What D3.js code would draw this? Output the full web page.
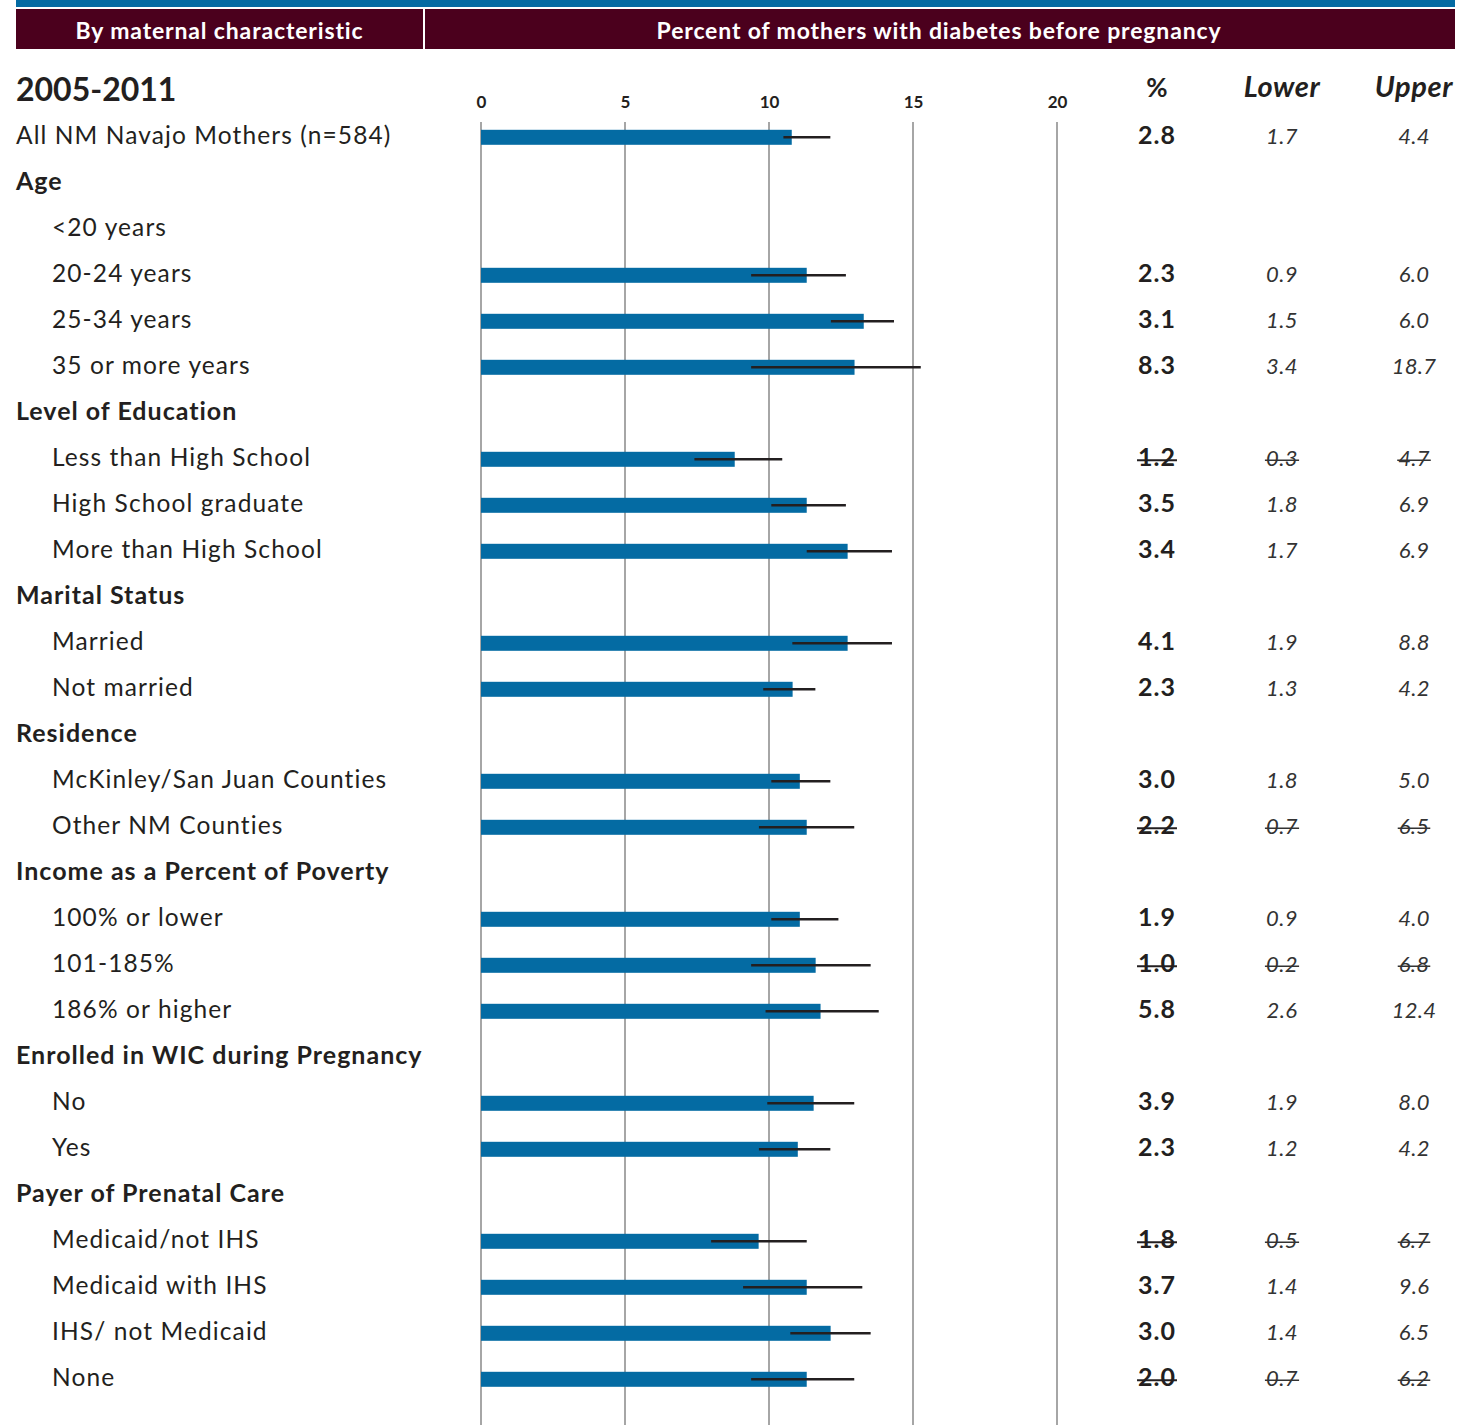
<!DOCTYPE html>
<html>
<head>
<meta charset="utf-8">
<script src="https://cdn.jsdelivr.net/npm/d3@7"></script>
<style>
  html, body { margin: 0; padding: 0; background: #fff; }
  svg { display: block; }
  text { font-family: Lato, "Open Sans", sans-serif; fill: #231f20; }
</style>
</head>
<body>
<svg id="chart" width="1460" height="1425"></svg>
<script>
// ---------------- data ----------------
const headerLeft = "By maternal characteristic";
const headerRight = "Percent of mothers with diabetes before pregnancy";
const periodLabel = "2005-2011";
const tableHeaders = ["%", "Lower", "Upper"];
const tickValues = [0, 5, 10, 15, 20];

const rowLabels = [
  "All NM Navajo Mothers (n=584)", "Age", "<20 years", "20-24 years", "25-34 years", "35 or more years",
  "Level of Education", "Less than High School", "High School graduate", "More than High School",
  "Marital Status", "Married", "Not married",
  "Residence", "McKinley/San Juan Counties", "Other NM Counties",
  "Income as a Percent of Poverty", "100% or lower", "101-185%", "186% or higher",
  "Enrolled in WIC during Pregnancy", "No", "Yes",
  "Payer of Prenatal Care", "Medicaid/not IHS", "Medicaid with IHS", "IHS/ not Medicaid", "None"
];
// t = total, c = category heading, i = item
const rowTypes = ["t","c","i","i","i","i","c","i","i","i","c","i","i","c","i","i","c","i","i","i","c","i","i","c","i","i","i","i"];

const pctValues   = ["2.8",null,null,"2.3","3.1","8.3",null,"1.2","3.5","3.4",null,"4.1","2.3",null,"3.0","2.2",null,"1.9","1.0","5.8",null,"3.9","2.3",null,"1.8","3.7","3.0","2.0"];
const lowerValues = ["1.7",null,null,"0.9","1.5","3.4",null,"0.3","1.8","1.7",null,"1.9","1.3",null,"1.8","0.7",null,"0.9","0.2","2.6",null,"1.9","1.2",null,"0.5","1.4","1.4","0.7"];
const upperValues = ["4.4",null,null,"6.0","6.0","18.7",null,"4.7","6.9","6.9",null,"8.8","4.2",null,"5.0","6.5",null,"4.0","6.8","12.4",null,"8.0","4.2",null,"6.7","9.6","6.5","6.2"];
const suppressed  = [false,false,false,false,false,false,false,true,false,false,false,false,false,false,false,true,false,false,true,false,false,false,false,false,true,false,false,true];

// bar lengths and whisker ends as drawn in the picture (axis units)
const barValues = [10.79,null,null,11.31,13.29,12.97,null,8.81,11.31,12.73,null,12.73,10.82,null,11.07,11.31,null,11.07,11.62,11.79,null,11.55,11.0,null,9.64,11.31,12.14,11.31];
const whiskerLow  = [10.5,null,null,9.38,12.15,9.38,null,7.41,10.08,11.31,null,10.81,9.80,null,10.08,9.65,null,10.08,9.38,9.88,null,9.94,9.65,null,7.99,9.10,10.74,9.38];
const whiskerHigh = [12.13,null,null,12.67,14.34,15.27,null,10.46,12.67,14.27,null,14.27,11.61,null,12.13,12.96,null,12.41,13.53,13.81,null,12.96,12.13,null,11.31,13.24,13.53,12.96];

// ---------------- layout ----------------
const svg = d3.select("#chart");
const barColor = "#046ba3";
const maroon = "#4b001d";

const x = d3.scaleLinear().domain([0, 20]).range([481, 1057]);
const rowIdx = d3.range(rowLabels.length);
const y = d3.scaleBand().domain(rowIdx).range([114.3, 114.3 + 46 * rowLabels.length]).paddingInner(0).paddingOuter(0);
const rc = i => y(i) + y.bandwidth() / 2;

// top banner
svg.append("rect").attr("x", 16).attr("y", 0).attr("width", 1439).attr("height", 7).attr("fill", barColor);
svg.append("rect").attr("x", 16).attr("y", 9).attr("width", 407).attr("height", 40).attr("fill", maroon);
svg.append("rect").attr("x", 425).attr("y", 9).attr("width", 1030).attr("height", 40).attr("fill", maroon);
[[headerLeft, 219.5], [headerRight, 939]].forEach(([t, cx]) => {
  svg.append("text").attr("x", cx).attr("y", 39).attr("text-anchor", "middle")
    .style("font-size", "23px").style("font-weight", "bold").style("letter-spacing", "0.85px")
    .style("fill", "#fff").text(t);
});

// period label
svg.append("text").attr("x", 16).attr("y", 101).style("font-size", "32px").style("font-weight", "bold").text(periodLabel);

// axis (top, gridlines)
const axis = d3.axisTop(x).tickValues(tickValues).tickSize(0).tickPadding(0).tickFormat(d3.format("d"));
const gAxis = svg.append("g").attr("transform", "translate(0,108)").call(axis);
gAxis.select(".domain").remove();
gAxis.selectAll("text").style("font-size", "17px").style("font-weight", "bold").style("fill", "#231f20")
  .style("font-family", "Lato, sans-serif");

svg.append("g").selectAll("line").data(tickValues).join("line")
  .attr("x1", d => x(d)).attr("x2", d => x(d))
  .attr("y1", 122).attr("y2", 1425)
  .attr("stroke", "#a6a6a6").attr("stroke-width", 2);

// table headers
const colX = [1157, 1282, 1414];
svg.append("g").selectAll("text").data(tableHeaders).join("text")
  .attr("x", (d, i) => colX[i]).attr("y", 97).attr("text-anchor", "middle")
  .style("font-size", (d, i) => i === 0 ? "26px" : "29px").style("font-weight", "bold")
  .style("letter-spacing", (d, i) => i === 0 ? "0px" : "0.6px")
  .style("font-style", (d, i) => i === 0 ? "normal" : "italic")
  .text(d => d);

// row labels
svg.append("g").selectAll("text").data(rowIdx).join("text")
  .attr("x", i => rowTypes[i] === "i" ? 52 : 16)
  .attr("y", i => rc(i) + 6.5)
  .style("font-size", i => rowTypes[i] === "c" ? "25px" : "24.5px")
  .style("letter-spacing", i => rowTypes[i] === "c" ? "1px" : "1.1px")
  .style("font-weight", i => rowTypes[i] === "c" ? "bold" : "normal")
  .text(i => rowLabels[i]);

// bars
const barRows = rowIdx.filter(i => barValues[i] != null);
svg.append("g").selectAll("rect").data(barRows).join("rect")
  .attr("x", x(0)).attr("y", i => rc(i) - 7.5)
  .attr("width", i => x(barValues[i]) - x(0)).attr("height", 15)
  .attr("fill", barColor);

// whiskers
svg.append("g").selectAll("line").data(barRows).join("line")
  .attr("x1", i => x(whiskerLow[i])).attr("x2", i => x(whiskerHigh[i]))
  .attr("y1", i => rc(i)).attr("y2", i => rc(i))
  .attr("stroke", "#231f20").attr("stroke-width", 2.5);

// table values
const cols = [
  { vals: pctValues, x: colX[0], size: 25, ls: 1, weight: "bold", style: "normal", color: "#231f20" },
  { vals: lowerValues, x: colX[1], size: 22, ls: 0.5, weight: "normal", style: "italic", color: "#333" },
  { vals: upperValues, x: colX[2], size: 22, ls: 0.3, weight: "normal", style: "italic", color: "#333" }
];
cols.forEach(col => {
  const g = svg.append("g");
  const rows = rowIdx.filter(i => col.vals[i] != null);
  const texts = g.selectAll("text").data(rows).join("text")
    .attr("x", col.x).attr("y", i => rc(i) + 6.5).attr("text-anchor", "middle")
    .style("font-size", col.size + "px").style("font-weight", col.weight)
    .style("letter-spacing", col.ls + "px")
    .style("font-style", col.style).style("fill", col.color)
    .text(i => col.vals[i]);
  texts.filter(i => suppressed[i]).each(function (i) {
    const b = this.getBBox();
    g.append("line")
      .attr("x1", b.x - 1).attr("x2", b.x + b.width + 1)
      .attr("y1", rc(i) + 1).attr("y2", rc(i) + 1)
      .attr("stroke", col.color).attr("stroke-width", col.weight === "bold" ? 2 : 1.5);
  });
});
</script>
</body>
</html>
